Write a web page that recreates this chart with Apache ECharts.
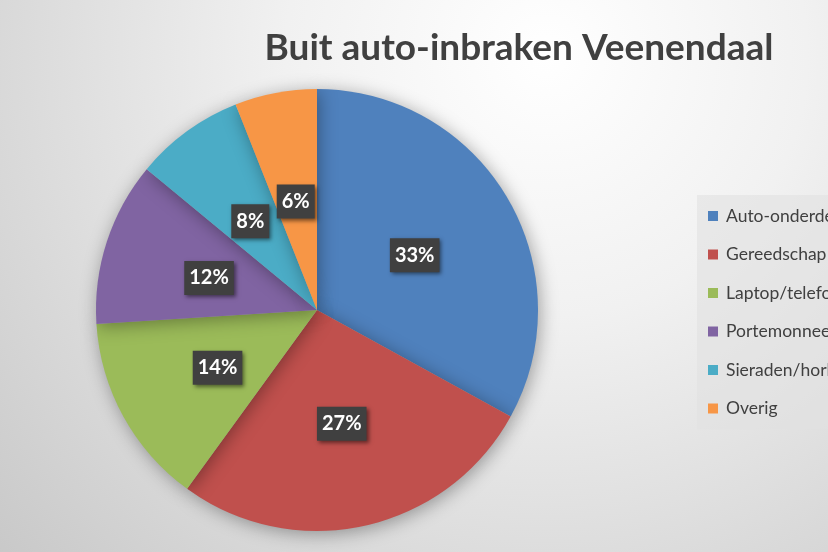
<!DOCTYPE html>
<html><head><meta charset="utf-8">
<script src="https://cdn.jsdelivr.net/npm/echarts@6/dist/echarts.min.js"></script>
<style>html,body{margin:0;padding:0;}#c{width:828px;height:552px;}</style>
</head><body><div id="c"></div>
<script>
var titleText = 'Buit auto-inbraken Veenendaal';
var categories = ['Auto-onderdelen', 'Gereedschap', 'Laptop/telefoon', 'Portemonnee', 'Sieraden/horloges', 'Overig'];
var values = [33, 27, 14, 12, 8, 6];
var colors = ['#4F81BD', '#C0504D', '#9BBB59', '#8064A2', '#4BACC6', '#F79646'];

var chart = echarts.init(document.getElementById('c'));
var data = categories.map(function (c, i) { return { name: c, value: values[i] }; });
chart.setOption({
  backgroundColor: {
    type: 'radial', x: 0.66, y: 0.1, r: 1.35,
    colorStops: [{ offset: 0, color: '#ffffff' }, { offset: 0.35, color: '#f1f1f1' }, { offset: 1, color: '#c8c8c8' }]
  },
  color: colors,
  title: {
    text: titleText, left: 514, top: 25, textAlign: 'center',
    textStyle: { fontFamily: 'Lato', fontWeight: 'bold', fontSize: 37, color: '#404040' }
  },
  legend: {
    orient: 'vertical', left: 697, top: 195,
    padding: [12, 10, 12, 11],
    backgroundColor: 'rgba(225,225,225,0.6)',
    itemWidth: 10, itemHeight: 10, itemGap: 20.5,
    icon: 'rect',
    textStyle: { fontFamily: 'Lato', fontSize: 17.5, color: '#404040', padding: [0, 0, 0, 3] },
    data: categories
  },
  series: [{
    type: 'pie',
    center: [317, 310], radius: 221,
    startAngle: 90, clockwise: true,
    data: data,
    itemStyle: { shadowBlur: 18, shadowColor: 'rgba(0,0,0,0.35)', shadowOffsetX: 2, shadowOffsetY: 3 },
    label: {
      position: 'inside',
      offset: [0, 3],
      formatter: function (p) { return p.value + '%'; },
      fontFamily: 'Lato', fontWeight: 'bold', fontSize: 20, color: '#ffffff',
      backgroundColor: '#404040', padding: [8, 5, 6, 5],
      shadowBlur: 4, shadowColor: 'rgba(0,0,0,0.5)', shadowOffsetX: 2, shadowOffsetY: 2
    },
    labelLine: { show: false },
    emphasis: { disabled: true },
    animation: false
  }]
});
</script></body></html>
